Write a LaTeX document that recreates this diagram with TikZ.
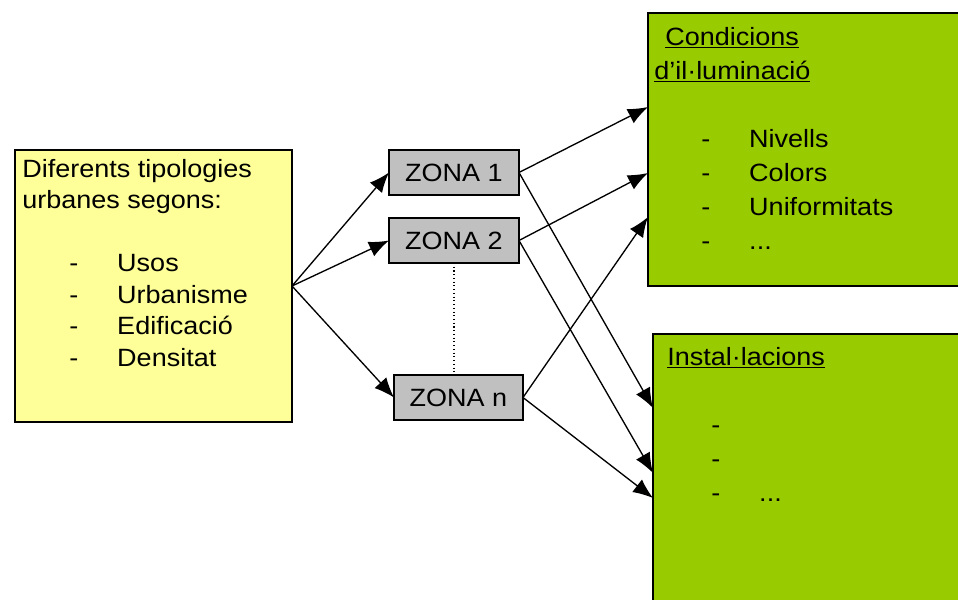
\documentclass[tikz,border=0pt]{standalone}
\usepackage{fontspec}
\setmainfont{Liberation Sans}[FakeStretch=1.08]
\usepackage{xcolor}
\usetikzlibrary{positioning}
\usetikzlibrary{arrows.meta,calc}
\definecolor{jaune}{HTML}{FFFF99}
\definecolor{gris}{HTML}{C0C0C0}
\definecolor{vert}{HTML}{99CC00}
\newcommand{\tiret}[1]{\hspace*{35.25pt}\makebox[36pt][l]{-}#1}

\begin{document}
\begin{tikzpicture}[
x=0.75pt, y=-0.75pt,
font=\fontsize{18.75pt}{23.6pt}\selectfont,
boite/.style = {
  draw,
  line width=1.2pt,
  inner sep=0pt,
  outer sep=0pt,
  anchor=north west},
zone/.style = {draw, line width=0.9pt, fill=gris, inner sep=0pt, outer sep=0pt, minimum height=33.75pt},
texte/.style = {inner sep=0pt, anchor=north west, align=left},
line/.style = {draw=black, line width=1pt, -{Latex[length=15pt,width=12pt]}},
]
\clip (0,0) rectangle (958,600);
\node[boite, fill=jaune, minimum width=207.75pt, minimum height=204pt] (typo) at (15,150) {};
\node[boite, fill=vert, minimum width=247.5pt, minimum height=204.75pt] (cond) at (648,13) {};
\node[boite, fill=vert, minimum width=241.5pt, minimum height=214.5pt] (inst) at (653,334) {};

\node[zone, minimum width=97.5pt, anchor=north west] (z1) at (389,150) {ZONA 1};
\node[zone, minimum width=97.5pt, below=17.25pt of z1] (z2) {ZONA 2};
\node[zone, minimum width=96.75pt, anchor=north west] (zn) at (394,375) {ZONA n};

\node[texte] (typotxt) at (22,159) {Diferents tipologies\\urbanes segons:\\[23.6pt]\tiret{Usos}\\\tiret{Urbanisme}\\\tiret{Edificació}\\\tiret{Densitat}};
\node[texte, font=\fontsize{18.75pt}{25.5pt}\selectfont] (condtxt) at (654,27) {\hspace*{8.25pt}\underline{Condicions}\\\underline{d’il·luminació}\\[25.5pt]\tiret{Nivells}\\\tiret{Colors}\\\tiret{Uniformitats}\\\tiret{...}};
\node[texte, font=\fontsize{18.75pt}{25.5pt}\selectfont] (insttxt) at (664,347) {\hspace*{2.25pt}\underline{Instal·lacions}\\[25.5pt]\tiret{}\\\tiret{}\\\tiret{...}};

\draw[dotted, line width=0.8pt] (z2.south) -- (z2.south |- zn.north);

 \begin{scope}[every path/.style=line]
\path (typo.east) -- (z1.west);
\path (typo.east) -- (z2.west);
\path (typo.east) -- (zn.west);
\path (z1.east) -- ($(cond.north west)+(0,94)$);
\path (z1.east) -- ($(inst.north west)+(0,74)$);
\path (z2.east) -- ($(cond.north west)+(0,160)$);
\path (z2.east) -- ($(inst.north west)+(0,139)$);
\path (zn.east) -- ($(cond.north west)+(0,204)$);
\path (zn.east) -- ($(inst.north west)+(0,164)$);
\end{scope}

\end{tikzpicture}
\end{document}
